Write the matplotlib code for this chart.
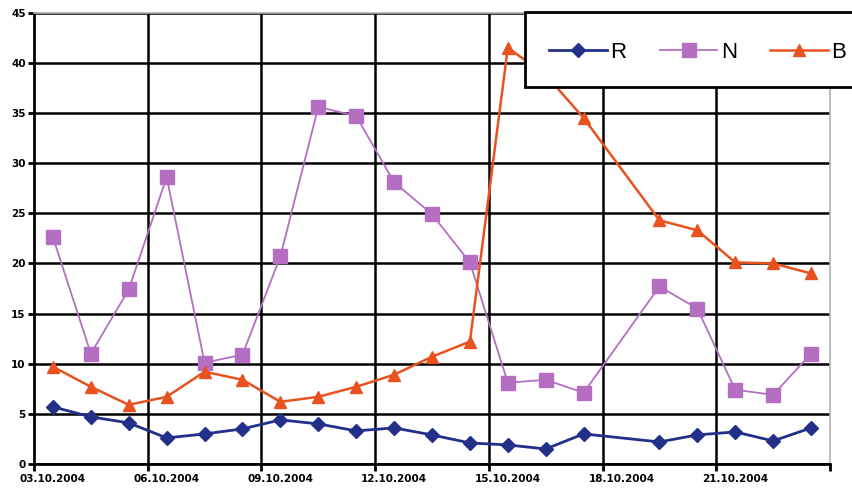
import matplotlib
matplotlib.use("Agg")
import matplotlib.pyplot as plt
from matplotlib.lines import Line2D
from matplotlib.patches import Rectangle
import pandas as pd
import numpy as np

dates = ["03.10.2004", "04.10.2004", "05.10.2004", "06.10.2004", "07.10.2004",
         "08.10.2004", "09.10.2004", "10.10.2004", "11.10.2004", "12.10.2004",
         "13.10.2004", "14.10.2004", "15.10.2004", "16.10.2004", "17.10.2004",
         "19.10.2004", "20.10.2004", "21.10.2004", "22.10.2004", "23.10.2004"]
R = [5.7, 4.7, 4.1, 2.6, 3.0, 3.5, 4.4, 4.0, 3.3, 3.6,
     2.9, 2.1, 1.9, 1.5, 3.0, 2.2, 2.9, 3.2, 2.3, 3.6]
N = [22.6, 11.0, 17.4, 28.6, 10.1, 10.9, 20.7, 35.6, 34.7, 28.1,
     24.9, 20.1, 8.1, 8.4, 7.1, 17.7, 15.5, 7.4, 6.9, 11.0]
B = [9.7, 7.7, 5.9, 6.7, 9.2, 8.4, 6.2, 6.7, 7.7, 8.9,
     10.7, 12.2, 41.5, 38.8, 34.5, 24.3, 23.3, 20.1, 20.0, 19.0]
tick_labels = ["03.10.2004", "06.10.2004", "09.10.2004", "12.10.2004",
               "15.10.2004", "18.10.2004", "21.10.2004"]

c_R = "#23308a"
c_N = "#b46fc2"
c_B = "#e8521f"

d = pd.to_datetime(dates, format="%d.%m.%Y")
start = d[0]
x = np.array((d - start).days, dtype=float)
tx = np.array((pd.to_datetime(tick_labels, format="%d.%m.%Y") - start).days, dtype=float)

fig = plt.figure(figsize=(8.53, 4.94), dpi=100)
ax = fig.add_axes([34/853, 1-464/494, (830-34)/853, (464-12.7)/494])
ax.set_facecolor("white")

ax.plot(x, R, color=c_R, lw=2, marker="D", ms=7.5, mec=c_R, mfc=c_R, zorder=5)
ax.plot(x, N, color=c_N, lw=1.3, marker="s", ms=9.5, mec=c_N, mfc=c_N, zorder=4)
ax.plot(x, B, color=c_B, lw=1.8, marker="^", ms=9, mec=c_B, mfc=c_B, zorder=4)

ax.set_xlim(-0.5, 20.5)
ax.set_ylim(0, 45)
ax.set_yticks(np.arange(0, 46, 5))
ax.yaxis.grid(True, color="black", lw=1.8)
ax.set_axisbelow(True)
grid_x = tx[1:] - 0.5
for gx in grid_x:
    ax.axvline(gx, color="black", lw=1.8, zorder=1)
ax.set_xticks(tx)
ax.set_xticklabels(tick_labels)
ax.set_xticks(np.concatenate([[-0.5], grid_x, [20.5]]), minor=True)
ax.tick_params(axis="x", which="major", length=0, pad=7, labelsize=7.5)
ax.tick_params(axis="x", which="minor", length=5, width=2, direction="out", color="black")
ax.tick_params(axis="y", length=4, width=2, direction="out", labelsize=7.5, pad=2)
for lab in ax.get_xticklabels() + ax.get_yticklabels():
    lab.set_fontweight("bold")

ax.spines["left"].set_linewidth(2)
ax.spines["bottom"].set_linewidth(2)
ax.spines["top"].set_color("#b0b0b0")
ax.spines["right"].set_color("#b0b0b0")
ax.spines["top"].set_linewidth(1.2)
ax.spines["right"].set_linewidth(1.2)

fig.patches.append(Rectangle((525/853, 1-87/494), 0.5, (87-12)/494,
                             transform=fig.transFigure, facecolor="white",
                             edgecolor="black", lw=2, zorder=10))
handles = [Line2D([], [], color=c_R, lw=2, marker="D", ms=7.5),
           Line2D([], [], color=c_N, lw=1.3, marker="s", ms=9.5),
           Line2D([], [], color=c_B, lw=1.8, marker="^", ms=9)]
leg = fig.legend(handles, ["R", "N", "B"], loc="center left",
                 bbox_to_anchor=(538/853, 1-52/494), ncol=3, frameon=False,
                 prop={"family": "Liberation Sans", "size": 16},
                 handlelength=2.6, columnspacing=1.5,
                 handletextpad=0.15, borderpad=0)
leg.set_zorder(11)

fig.savefig("out.png", dpi=100, facecolor="white")
